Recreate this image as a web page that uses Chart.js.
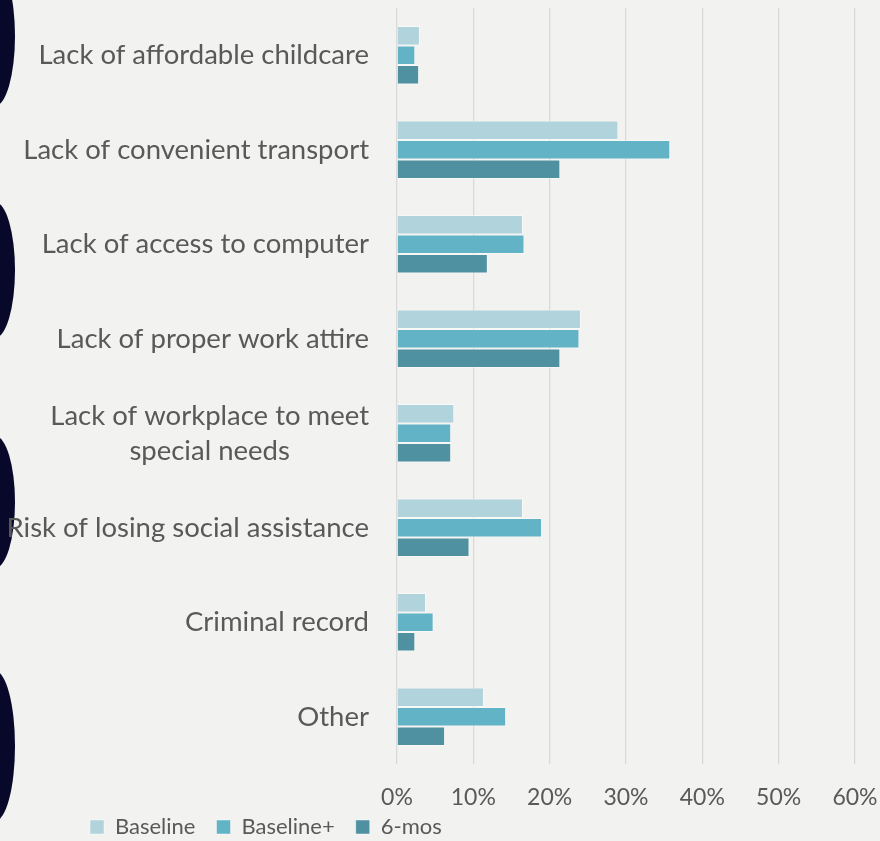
<!DOCTYPE html>
<html>
<head>
<meta charset="utf-8">
<script src="https://cdn.jsdelivr.net/npm/chart.js@4.4.1/dist/chart.umd.min.js"></script>
<style>
  html, body { margin: 0; padding: 0; background: #f2f2f0; }
  #wrap { width: 880px; height: 841px; }
</style>
</head>
<body>
<div id="wrap"><canvas id="barriers" width="880" height="841"></canvas></div>
<script>
// Barriers to employment, share of respondents (%)
const CATEGORIES = [
  ['Lack of affordable childcare'],
  ['Lack of convenient transport'],
  ['Lack of access to computer'],
  ['Lack of proper work attire'],
  ['Lack of workplace to meet', 'special needs'],
  ['Risk of losing social assistance'],
  ['Criminal record'],
  ['Other'],
];

const BASELINE      = [3.0, 29.0, 16.5, 24.1, 7.5, 16.5, 3.8, 11.4];
const BASELINE_PLUS = [2.4, 35.8, 16.7, 23.9, 7.1, 19.0, 4.8, 14.3];
const SIX_MOS       = [2.9, 21.4, 11.9, 21.4, 7.1,  9.5, 2.4,  6.3];

const X_TICKS = ['0%', '10%', '20%', '30%', '40%', '50%', '60%'];

const FONT = 'Lato, "Open Sans", sans-serif';
const TEXT = '#595959';

// left-edge navy waves + page fill
const backdrop = {
  id: 'backdrop',
  beforeDraw(chart) {
    const ctx = chart.ctx;
    ctx.save();
    ctx.fillStyle = '#f2f2f0';
    ctx.fillRect(0, 0, chart.width, chart.height);
    ctx.fillStyle = '#08082b';
    [[36, 70], [270, 68], [502, 66], [746, 75]].forEach(([cy, ry]) => {
      ctx.beginPath();
      ctx.ellipse(-5, cy, 20, ry, 0, 0, Math.PI * 2);
      ctx.fill();
    });
    ctx.restore();
  }
};

// category labels: right aligned block, lines centred inside the block
const catLabels = {
  id: 'catLabels',
  afterDraw(chart) {
    const ctx = chart.ctx;
    const y = chart.scales.y;
    const right = y.right - 28;
    const lh = 35;
    ctx.save();
    ctx.font = '27.5px ' + FONT;
    ctx.fillStyle = TEXT;
    ctx.textAlign = 'center';
    ctx.textBaseline = 'middle';
    CATEGORIES.forEach((lines, i) => {
      const w = Math.max(...lines.map(l => ctx.measureText(l).width));
      const cx = right - w / 2;
      const cy = y.getPixelForValue(i);
      lines.forEach((l, j) => {
        ctx.fillText(l, cx, cy + (j - (lines.length - 1) / 2) * lh);
      });
    });
    ctx.restore();
  }
};

// legend sits under the labels column, not centred on the canvas
const legendSpot = {
  id: 'legendSpot',
  afterLayout(chart) {
    const lg = chart.legend;
    lg.left = 69;
    lg.top = 795;
  }
};

const ctx = document.getElementById('barriers').getContext('2d');
new Chart(ctx, {
  type: 'bar',
  data: {
    labels: CATEGORIES,
    datasets: [
      { label: 'Baseline',  data: BASELINE,      backgroundColor: '#b0d3dc' },
      { label: 'Baseline+', data: BASELINE_PLUS, backgroundColor: '#63b3c6' },
      { label: '6-mos',     data: SIX_MOS,       backgroundColor: '#4f91a0' },
    ].map(ds => Object.assign(ds, {
      borderColor: 'rgba(255,255,255,0.45)',
      borderWidth: 1,
      categoryPercentage: 0.62,
      barPercentage: 1,
    })),
  },
  options: {
    indexAxis: 'y',
    responsive: false,
    animation: false,
    layout: { padding: { top: 8, right: 25, bottom: -54, left: 0 } },
    plugins: {
      legend: {
        position: 'bottom',
        align: 'start',
        labels: {
          boxWidth: 14, boxHeight: 14, padding: 21,
          color: TEXT, font: { family: FONT, size: 22 },
        },
      },
      tooltip: { enabled: false },
    },
    scales: {
      y: {
        grid: { display: false },
        border: { display: false },
        ticks: { display: false },
        afterFit: s => { s.width = 397; },
      },
      x: {
        min: 0, max: 60,
        grid: { color: '#d9d9d9', lineWidth: 1.3, drawTicks: false },
        border: { display: false },
        ticks: {
          stepSize: 10, padding: 20, color: TEXT,
          font: { family: FONT, size: 23 },
          callback: (v, i) => X_TICKS[i],
        },
        afterFit: s => {
          s.height = 78;
          s.paddingLeft = 0;
          s.paddingRight = 0;
        },
      },
    },
  },
  plugins: [backdrop, catLabels, legendSpot],
});
</script>
</body>
</html>
